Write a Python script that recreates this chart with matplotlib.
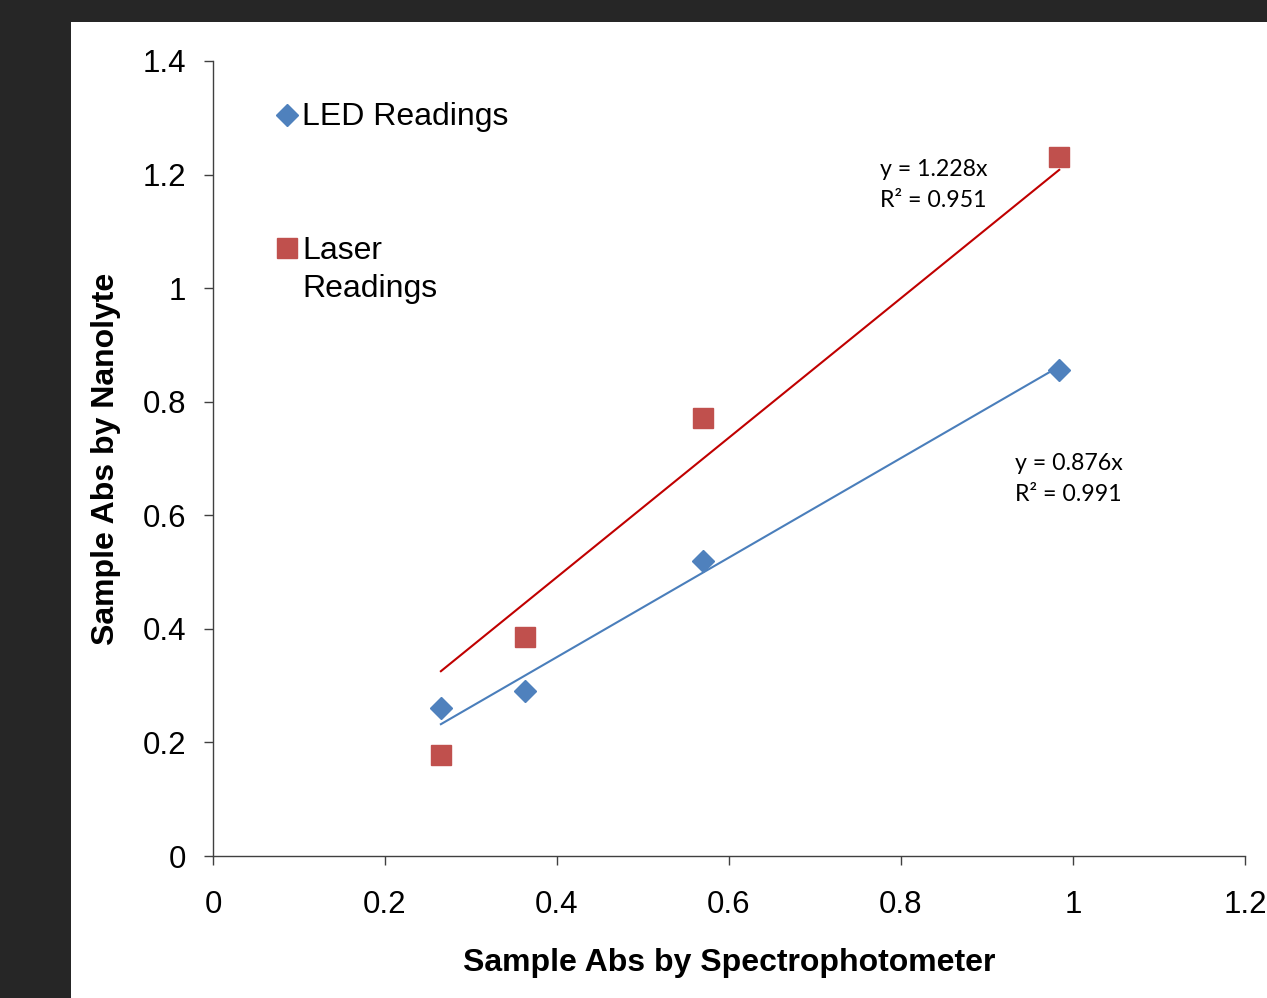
import matplotlib
matplotlib.use("Agg")
import matplotlib.pyplot as plt
from matplotlib.lines import Line2D
from matplotlib.patches import Rectangle
import numpy as np

# Data
spectro_x = [0.265, 0.363, 0.570, 0.984]
led_y = [0.261, 0.291, 0.519, 0.856]
laser_y = [0.178, 0.386, 0.771, 1.231]
led_slope = 0.876
laser_slope = 1.228
led_label = "LED Readings"
laser_label = "Laser\nReadings"
led_eq = "y = 0.876x\nR² = 0.991"
laser_eq = "y = 1.228x\nR² = 0.951"
xticks = [0, 0.2, 0.4, 0.6, 0.8, 1, 1.2]
yticks = [0, 0.2, 0.4, 0.6, 0.8, 1, 1.2, 1.4]

W, H = 1267, 998
fig = plt.figure(figsize=(W / 100, H / 100), dpi=100)
fig.patch.set_facecolor("#262626")
fig.add_artist(Rectangle((71 / W, 0), 1 - 71 / W, (H - 22) / H,
                         transform=fig.transFigure, facecolor="white",
                         edgecolor="none", zorder=0))

ax = fig.add_axes([213 / W, (H - 856) / H, (1245 - 213) / W, (856 - 61) / H])
ax.set_facecolor("none")

blue = "#4F81BD"
red = "#C0504D"

xs = np.array([min(spectro_x), max(spectro_x)])
ax.plot(xs, laser_slope * xs, color="#C00000", lw=1.5, zorder=2)
ax.plot(xs, led_slope * xs, color="#4A7EBB", lw=1.5, zorder=2)
ax.plot(spectro_x, led_y, linestyle="none", marker="D", ms=10.8,
        color=blue, mec=blue, zorder=3)
ax.plot(spectro_x, laser_y, linestyle="none", marker="s", ms=14,
        color=red, mec=red, zorder=3)

ax.set_xlim(0, 1.2)
ax.set_ylim(0, 1.4)
ax.set_xticks(xticks)
ax.set_yticks(yticks)
ax.set_xticklabels([f"{t:g}" for t in xticks])
ax.set_yticklabels([f"{t:g}" for t in yticks])

for s in ["top", "right"]:
    ax.spines[s].set_visible(False)
for s in ["left", "bottom"]:
    ax.spines[s].set_color("#404040")
    ax.spines[s].set_linewidth(1.0)

ax.tick_params(axis="both", direction="out", length=6.5, width=1.0,
               color="#404040", labelsize=22.5, labelcolor="black")
ax.tick_params(axis="x", pad=18)
ax.tick_params(axis="y", pad=13)
for lab in ax.get_xticklabels() + ax.get_yticklabels():
    lab.set_fontfamily("Liberation Sans")

ax.set_xlabel("Sample Abs by Spectrophotometer", fontsize=23, fontweight="bold",
              fontfamily="Liberation Sans", labelpad=20)
ax.set_ylabel("Sample Abs by Nanolyte", fontsize=23, fontweight="bold",
              fontfamily="Liberation Sans", labelpad=15)

# Trendline equations
ax.text(0.7756, 1.181, laser_eq, fontsize=16.7, fontfamily="Lato",
        ha="left", va="center", linespacing=1.6)
ax.text(0.9326, 0.664, led_eq, fontsize=16.7, fontfamily="Lato",
        ha="left", va="center", linespacing=1.6)

# Legend (manual)
fig.add_artist(Line2D([287 / W], [(H - 115) / H], marker="D", ms=10.8,
                      color=blue, mec=blue, linestyle="none",
                      transform=fig.transFigure))
fig.add_artist(Line2D([287 / W], [(H - 248) / H], marker="s", ms=14,
                      color=red, mec=red, linestyle="none",
                      transform=fig.transFigure))
fig.text(302 / W, (H - 117.5) / H, led_label, fontsize=23,
         fontfamily="Liberation Sans", ha="left", va="center")
fig.text(302 / W, (H - 270) / H, laser_label, fontsize=23,
         fontfamily="Liberation Sans", ha="left", va="center",
         linespacing=1.32)

fig.savefig("out.png", dpi=100, facecolor=fig.get_facecolor())
